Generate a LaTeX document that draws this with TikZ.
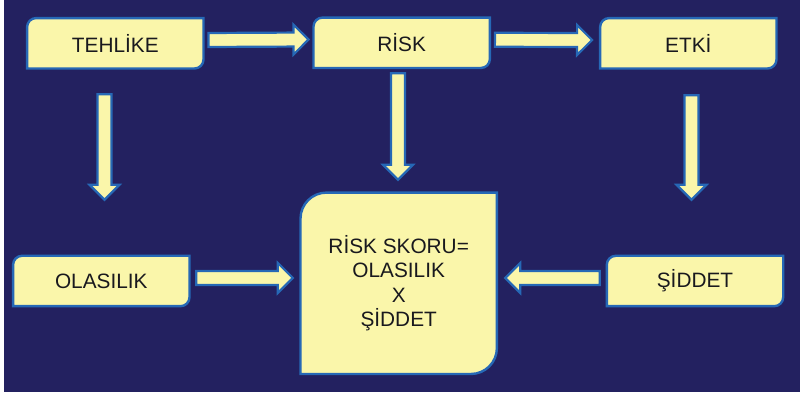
\documentclass[tikz,border=0pt]{standalone}
\usepackage{fontspec}
\setmainfont{Liberation Sans}
\usetikzlibrary{calc}
\pgfdeclarelayer{background}
\pgfsetlayers{background,main}

\definecolor{boardnavy}{RGB}{35,33,96}
\definecolor{cardfill}{RGB}{250,246,170}
\definecolor{cardedge}{RGB}{38,104,182}
\definecolor{cardtext}{RGB}{25,25,30}

\tikzset{
  card/.style={minimum width=176pt, minimum height=50pt, inner sep=0pt, align=center,
    text=cardtext, font=\fontsize{20.8}{24.3}\selectfont},
  cardline/.style={fill=cardfill, draw=cardedge, line width=2.4pt},
  fatline/.style={fill=cardfill, draw=cardedge, line width=2.2pt, line join=miter},
}

% block arrow from #1 to #2 (calc expressions)
\newcommand\fatarrow[2]{%
  \coordinate (fa-s) at ($#1$);
  \coordinate (fa-e) at ($#2$);
  \coordinate (fa-h) at ($(fa-e)!15pt!(fa-s)$);
  \draw[fatline] ($(fa-s)!7pt!90:(fa-e)$) -- ($(fa-h)!7pt!-90:(fa-s)$) -- ($(fa-h)!15pt!-90:(fa-s)$)
    -- (fa-e) -- ($(fa-h)!15pt!90:(fa-s)$) -- ($(fa-h)!7pt!90:(fa-s)$) -- ($(fa-s)!7pt!-90:(fa-e)$) -- cycle;
}

\begin{document}
\begin{tikzpicture}[x=1pt, y=1pt]
  \useasboundingbox (0,0) rectangle (800,395);

  % Top row
  \node[card] (tehlike) at (115.3,351.7) {TEHLİKE};
  \node[card] (risk) at (401.7,352.2) {RİSK};
  \node[card] (etki) at (688.3,351.7) {ETKİ};

  % Bottom row
  \node[card] (olasilik) at (101.3,114) {OLASILIK};
  \node[card] (siddet) at (695,114) {ŞİDDET};
  \node[card, minimum width=196pt, minimum height=181pt] (skor) at (398.7,111.7)
    {RİSK SKORU=\\OLASILIK\\X\\ŞİDDET};

  % Board and card frames (round top left and bottom right)
  \begin{pgfonlayer}{background}
    \fill[white] (0,0) rectangle (800,395);
    \fill[boardnavy] (4,3) rectangle (800,395);
    \foreach \n/\rad in {tehlike/9,risk/9,etki/9,olasilik/9,siddet/9,skor/26} {
      \draw[cardline] ($(\n.north west)+(0,-\rad)$) arc[start angle=180, end angle=90, radius=\rad]
        -- (\n.north east) -- ($(\n.south east)+(0,\rad)$) arc[start angle=0, end angle=-90, radius=\rad]
        -- (\n.south west) -- cycle;
    }
  \end{pgfonlayer}

  % Arrows along the top
  \fatarrow{(tehlike.east)+(5,3.3)}{(risk.west)+(-5,3.3)}
  \fatarrow{(risk.east)+(5,3)}{(etki.west)+(-8,3.3)}

  % Arrows going down
  \fatarrow{(tehlike.south)+(-10.8,-25.7)}{(olasilik.north)+(3.2,56)}
  \fatarrow{(risk.south)+(-3.7,-5.2)}{(skor.north)+(-0.7,12.8)}
  \fatarrow{(etki.south)+(3.2,-26.7)}{(siddet.north)+(-3.5,56)}

  % Arrows into the score
  \fatarrow{(olasilik.east)+(6.7,3)}{(skor.west)+(-7.7,5.3)}
  \fatarrow{(siddet.west)+(-7,3)}{(skor.east)+(8.3,5.3)}
\end{tikzpicture}
\end{document}
